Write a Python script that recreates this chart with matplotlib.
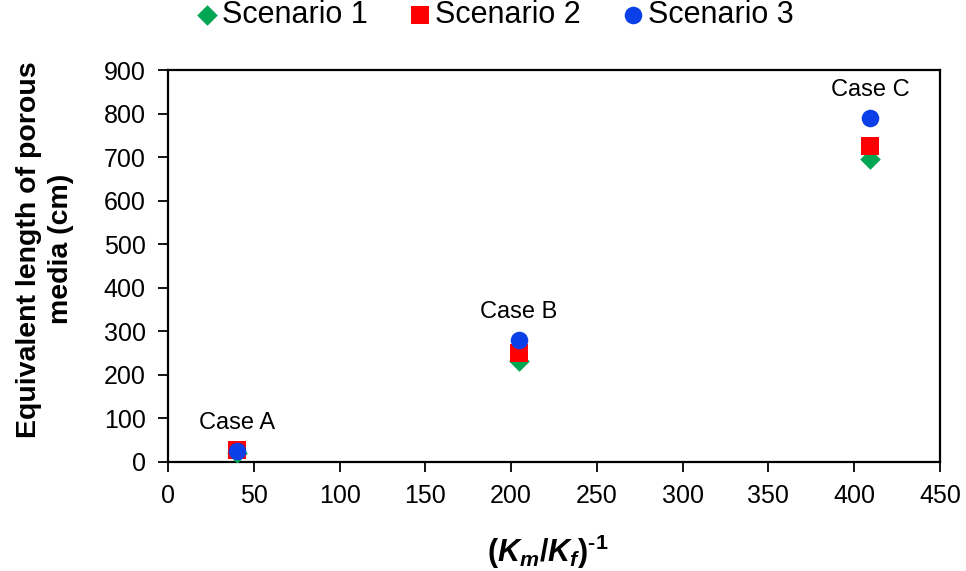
import numpy as np
import matplotlib
matplotlib.use("Agg")
import matplotlib.pyplot as plt

plt.rcParams['font.family'] = ['Liberation Sans', 'DejaVu Sans']
plt.rcParams['mathtext.fontset'] = 'custom'
plt.rcParams['mathtext.rm'] = 'Liberation Sans:bold'
plt.rcParams['mathtext.it'] = 'Liberation Sans:bold:italic'
plt.rcParams['mathtext.bf'] = 'Liberation Sans:bold'

# data
km_kf_inv = [40, 204.5, 409.5]
scenario1 = [20, 232, 695]
scenario2 = [28, 250, 726]
scenario3 = [25, 280, 790]
case_labels = ["Case A", "Case B", "Case C"]
xticks = np.arange(0, 451, 50)
yticks = np.arange(0, 901, 100)

fig = plt.figure(figsize=(9.66, 5.71), dpi=100)
ax = fig.add_axes([0.174, 0.191, 0.799, 0.686])

ax.scatter(km_kf_inv, scenario1, marker='D', s=110, color='#00A651', label='Scenario 1', zorder=3, linewidths=0)
ax.scatter(km_kf_inv, scenario2, marker='s', s=165, color='#FF0000', label='Scenario 2', zorder=4, linewidths=0)
ax.scatter(km_kf_inv, scenario3, marker='o', s=160, color='#0B3FE8', label='Scenario 3', zorder=5, linewidths=0)

# case annotations above the top marker
for x, y, lab in zip(km_kf_inv, scenario3, case_labels):
    ax.annotate(lab, (x, y), xytext=(0, 12), textcoords='offset points',
                ha='center', va='bottom', fontsize=17)

ax.set_xlim(0, 450)
ax.set_ylim(0, 900)
ax.set_xticks(xticks)
ax.set_yticks(yticks)
ax.tick_params(axis='both', labelsize=18, direction='out', length=7, width=1.3)
ax.tick_params(axis='y', pad=9)
ax.tick_params(axis='x', pad=9)
for sp in ax.spines.values():
    sp.set_linewidth(1.6)

ax.set_ylabel("Equivalent length of porous\nmedia (cm)", fontsize=20.5, fontweight='bold',
              linespacing=1.3)
ax.yaxis.set_label_coords(-0.122, 0.543)
ax.set_xlabel(r"$(K_m/K_f)^{\text{-1}}$", fontsize=22)
ax.xaxis.set_label_coords(0.492, -0.18)

fig.legend(*ax.get_legend_handles_labels(), loc='center', bbox_to_anchor=(0.51, 0.974),
           ncol=3, frameon=False, fontsize=22, handletextpad=0.0, columnspacing=1.2,
           handlelength=1.0, markerscale=1.0, borderaxespad=0.0)

fig.savefig("out.png", dpi=100)
